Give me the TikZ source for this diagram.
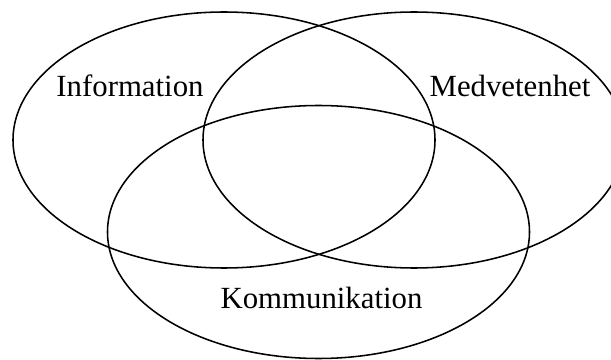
\documentclass[tikz,border=0pt]{standalone}
\usepackage{fontspec}
\setmainfont{Liberation Serif}
\usepackage{tikz}

\begin{document}
\begin{tikzpicture}[x=0.025cm, y=-0.025cm, line width=1.1pt]
    \tikzset{setlabel/.style={anchor=base, inner sep=0pt, font=\fontsize{21.9}{26}\selectfont}}
    \clip (0, 0) rectangle (611, 360);
    % the three sets
    \draw (224, 140) ellipse [x radius=211, y radius=128];
    \draw (414, 140) ellipse [x radius=211, y radius=128];
    \draw (318.5, 232) ellipse [x radius=211, y radius=126.5];
    % labels
    \node [setlabel] (info) at (130, 97) {Information};
    \node [setlabel] (medv) at (510, 97) {Medvetenhet};
    \node [setlabel] (komm) at (321.5, 308) {Kommunikation};
\end{tikzpicture}
\end{document}
